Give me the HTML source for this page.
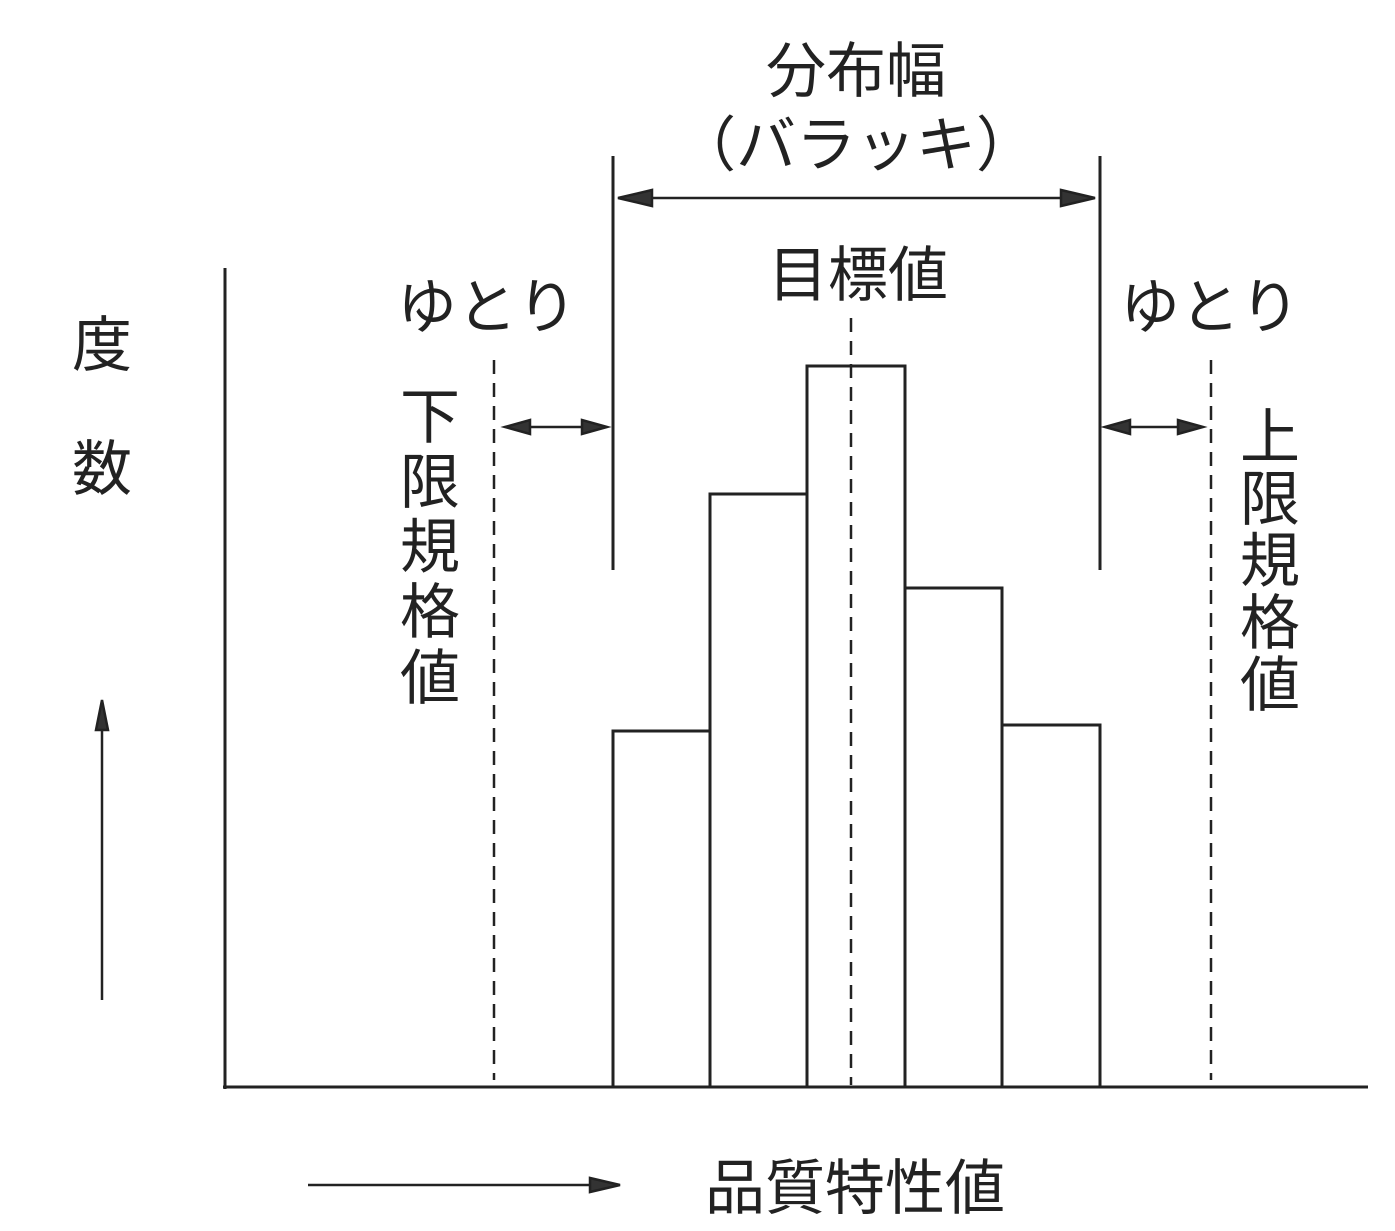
<!DOCTYPE html>
<html><head><meta charset="utf-8"><style>
html,body{margin:0;padding:0;background:#fff}
svg{display:block}
text{font-family:"Liberation Sans","Noto Sans CJK JP",sans-serif;fill:#222}
</style></head><body>
<svg width="1395" height="1231" viewBox="0 0 1395 1231" xmlns="http://www.w3.org/2000/svg">
<g stroke="#222" stroke-width="3" fill="none">
<line x1="225" y1="268" x2="225" y2="1089"/>
<line x1="223" y1="1087" x2="1368" y2="1087"/>
<rect x="613" y="731" width="97" height="356"/>
<rect x="710" y="494" width="97" height="593"/>
<rect x="807" y="366" width="98" height="721"/>
<rect x="905" y="588" width="97" height="499"/>
<rect x="1002" y="725" width="98" height="362"/>
<line x1="613" y1="156" x2="613" y2="570"/>
<line x1="1100" y1="156" x2="1100" y2="570"/>
</g>
<g stroke="#222" stroke-width="2.5" stroke-dasharray="14,9">
<line x1="851" y1="318" x2="851" y2="1085"/>
<line x1="494" y1="360" x2="494" y2="1080"/>
<line x1="1211" y1="360" x2="1211" y2="1080"/>
</g>
<g stroke="#222" stroke-width="2.5" fill="#333">
<line x1="640" y1="198" x2="1073" y2="198"/>
<polygon points="618,198 652,190 652,206"/>
<polygon points="1095,198 1061,190 1061,206"/>
<line x1="525" y1="427" x2="588" y2="427"/>
<polygon points="505,427 530,420 530,434"/>
<polygon points="607,427 582,420 582,434"/>
<line x1="1125" y1="427" x2="1183" y2="427"/>
<polygon points="1105,427 1130,420 1130,434"/>
<polygon points="1203,427 1178,420 1178,434"/>
<line x1="102" y1="1000" x2="102" y2="725"/>
<polygon points="102,700 96,730 108,730"/>
<line x1="308" y1="1185" x2="595" y2="1185"/>
<polygon points="620,1185 590,1178 590,1192"/>
</g>
<g font-size="60" text-anchor="middle">
<text x="856" y="92">分布幅</text>
<text x="856" y="166">（バラッキ）</text>
<text x="858" y="296">目標値</text>
<text x="487" y="328">ゆとり</text>
<text x="1210" y="328">ゆとり</text>
<text x="102" y="366">度</text>
<text x="102" y="490">数</text>
<text x="430" y="438">下</text>
<text x="430" y="503">限</text>
<text x="430" y="568">規</text>
<text x="430" y="633">格</text>
<text x="430" y="699">値</text>
<text x="1270" y="458">上</text>
<text x="1270" y="520">限</text>
<text x="1270" y="582">規</text>
<text x="1270" y="644">格</text>
<text x="1270" y="706">値</text>
<text x="855" y="1209">品質特性値</text>
</g>
</svg>
</body></html>
